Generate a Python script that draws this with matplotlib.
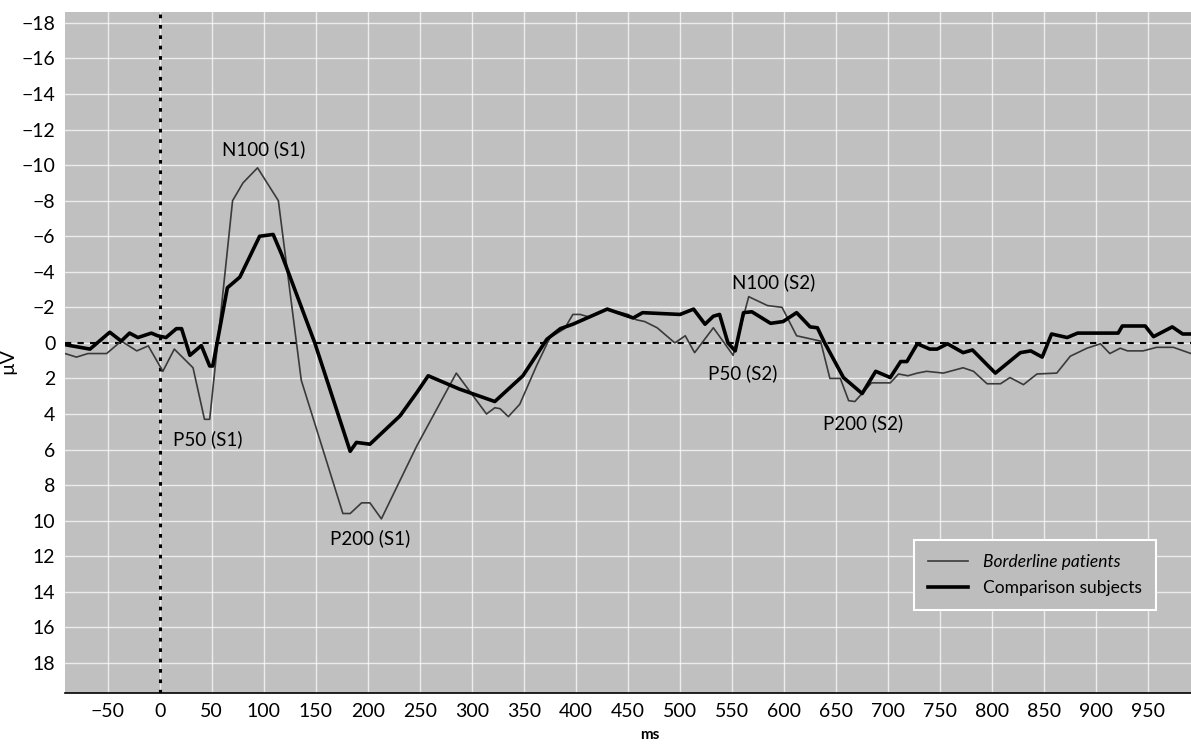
import matplotlib.pyplot as plt

# ERP grand averages (ms, microvolts; negative up)
t_border = [-91, -80, -69, -51, -37, -22, -11, 3, 14, 32, 43, 48, 70, 80, 94, 114, 136,
            176, 183, 194, 202, 213, 247, 285, 314, 322, 327, 335, 346, 362, 375, 389,
            397, 404, 413, 430, 450, 458, 466, 478, 495, 505, 514, 532, 551, 566, 584,
            598, 612, 635, 644, 654, 662, 668, 684, 702, 710, 719, 728, 737, 753, 772,
            782, 795, 808, 817, 830, 843, 862, 875, 891, 904, 913, 923, 930, 945, 958,
            974, 991]
v_border = [0.6, 0.8, 0.6, 0.6, -0.1, 0.45, 0.17, 1.6, 0.35, 1.4, 4.3, 4.3, -8.0, -9.0,
            -9.85, -8.0, 2.1, 9.6, 9.6, 9.0, 9.0, 9.9, 5.8, 1.7, 4.0, 3.65, 3.7, 4.15,
            3.45, 1.3, -0.3, -0.8, -1.6, -1.6, -1.45, -1.9, -1.6, -1.3, -1.2, -0.85, 0.0,
            -0.4, 0.55, -0.85, 0.7, -2.6, -2.1, -2.0, -0.4, -0.1, 2.0, 2.0, 3.25, 3.3,
            2.25, 2.25, 1.75, 1.85, 1.7, 1.6, 1.7, 1.4, 1.6, 2.3, 2.3, 1.95, 2.35, 1.75,
            1.7, 0.75, 0.3, 0.05, 0.6, 0.3, 0.45, 0.45, 0.25, 0.25, 0.6]

t_comp = [-91, -67, -48, -37, -29, -21, -8, -2, 6, 16, 21, 29, 40, 48, 51, 65, 77, 96,
          109, 117, 149, 183, 189, 202, 231, 247, 258, 288, 322, 349, 372, 385, 397,
          430, 455, 464, 500, 513, 524, 532, 538, 546, 553, 561, 569, 587, 599, 612,
          625, 632, 639, 657, 675, 688, 702, 712, 718, 728, 740, 747, 757, 772, 781,
          803, 827, 837, 848, 857, 872, 882, 921, 925, 947, 955, 973, 983, 991]
v_comp = [0.1, 0.35, -0.6, -0.1, -0.55, -0.3, -0.55, -0.4, -0.3, -0.8, -0.8, 0.7, 0.15,
          1.3, 1.3, -3.1, -3.7, -6.0, -6.1, -5.0, 0.0, 6.1, 5.6, 5.7, 4.1, 2.8, 1.85,
          2.6, 3.3, 1.85, -0.2, -0.8, -1.05, -1.9, -1.4, -1.7, -1.6, -1.9, -1.05, -1.5,
          -1.6, 0.0, 0.45, -1.7, -1.75, -1.1, -1.2, -1.7, -0.9, -0.85, 0.0, 1.95, 2.85,
          1.6, 1.95, 1.05, 1.05, 0.05, 0.35, 0.35, 0.05, 0.55, 0.4, 1.7, 0.55, 0.45,
          0.8, -0.5, -0.3, -0.55, -0.55, -0.95, -0.95, -0.35, -0.9, -0.5, -0.5]

peak_labels = ["N100 (S1)", "P50 (S1)", "P200 (S1)", "N100 (S2)", "P50 (S2)", "P200 (S2)"]
peak_t = [100, 46, 202, 590, 560, 676]
peak_v = [-10.9, 5.4, 11.0, -3.4, 1.7, 4.5]

xticks = list(range(-50, 1000, 50))
yticks = list(range(-18, 20, 2))

plt.rcParams['font.family'] = ['Lato', 'DejaVu Sans']

fig = plt.figure(figsize=(11.91, 7.44), dpi=100)
ax = fig.add_axes([0.0546, 0.0685, 0.9454, 0.915])
ax.set_facecolor('#c0c0c0')

ax.set_xlim(-91, 991)
ax.set_ylim(19.7, -18.6)
ax.set_xticks(xticks)
ax.set_yticks(yticks)
ax.grid(True, color='white', linewidth=1.0, alpha=0.7)
ax.set_axisbelow(True)
ax.tick_params(length=0, labelsize=14, pad=7)
ax.set_xticklabels([str(x).replace('-', '\u2212') for x in xticks])
ax.set_yticklabels([str(y).replace('-', '\u2212') for y in yticks])

for side in ['top', 'right', 'left']:
    ax.spines[side].set_visible(False)
ax.spines['bottom'].set_color('black')
ax.spines['bottom'].set_linewidth(1.2)

# stimulus onset and baseline
ax.axvline(0, color='black', linestyle=(0, (1.2, 2.2)), linewidth=2.2)
ax.axhline(0, color='black', linestyle=(0, (3, 3)), linewidth=1.5)

ax.plot(t_border, v_border, color='#3a3a3a', linewidth=1.2, label='Borderline patients')
ax.plot(t_comp, v_comp, color='black', linewidth=2.6, label='Comparison subjects')

for lab, tx, vy in zip(peak_labels, peak_t, peak_v):
    ax.text(tx, vy, lab, ha='center', va='center', fontsize=13.5)

leg = ax.legend(loc='lower right', bbox_to_anchor=(0.969, 0.122), borderaxespad=0,
                frameon=True, handlelength=2.3, handletextpad=0.9, borderpad=0.8,
                labelspacing=0.6, fancybox=False, prop={'size': 12.5})
leg.get_frame().set_facecolor('#bdbdbd')
leg.get_frame().set_edgecolor('white')
leg.get_frame().set_linewidth(1.5)
leg.get_frame().set_alpha(1)
leg.get_texts()[0].set_fontstyle('italic')

ax.set_ylabel('\u00b5V', fontsize=14)
ax.yaxis.set_label_coords(-0.043, 0.487)
ax.text(471, -0.052, 'ms', transform=ax.get_xaxis_transform(), ha='center',
        va='top', fontsize=11, fontweight='bold')

fig.savefig('out.png', dpi=100)
